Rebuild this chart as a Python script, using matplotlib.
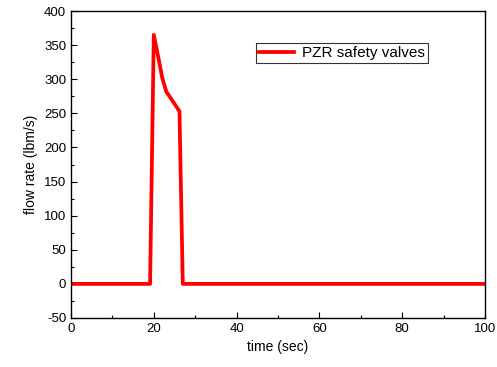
import matplotlib
matplotlib.use("Agg")
import matplotlib.pyplot as plt
from matplotlib.ticker import MultipleLocator

plt.rcParams['font.family'] = ['Liberation Sans', 'DejaVu Sans']
plt.rcParams['axes.unicode_minus'] = False

# PZR safety valve flow
time_s = [0.0, 19.1, 20.0, 21.0, 22.0, 23.0, 26.2, 27.0, 100.0]
flow_lbm = [0.0, 0.0, 365.0, 335.0, 303.0, 282.0, 253.0, 0.0, 0.0]

fig = plt.figure(figsize=(4.97, 3.67), dpi=100)
ax = fig.add_axes([71 / 497, 1 - 318 / 367, 414 / 497, 307 / 367])

ax.plot(time_s, flow_lbm, color='#ff0000', linewidth=2.7, label='PZR safety valves')

ax.set_xlim(0, 100)
ax.set_ylim(-50, 400)
ax.xaxis.set_major_locator(MultipleLocator(20))
ax.xaxis.set_minor_locator(MultipleLocator(10))
ax.yaxis.set_major_locator(MultipleLocator(50))
ax.yaxis.set_minor_locator(MultipleLocator(25))
ax.tick_params(which='both', direction='in', labelsize=9.5, top=False, right=False)
ax.tick_params(which='major', length=4, width=0.8)
ax.tick_params(which='minor', length=2.5, width=0.8)
for s in ax.spines.values():
    s.set_linewidth(1.0)

ax.set_xlabel('time (sec)', fontsize=10)
ax.set_ylabel('flow rate (lbm/s)', fontsize=10)

leg = ax.legend(loc='upper left', bbox_to_anchor=(0.447, 0.896), fontsize=11,
                frameon=True, fancybox=False, edgecolor='black', borderaxespad=0,
                handlelength=2.3, borderpad=0.2, handletextpad=0.5)
leg.get_frame().set_linewidth(0.8)

fig.savefig('out.png', dpi=100)
